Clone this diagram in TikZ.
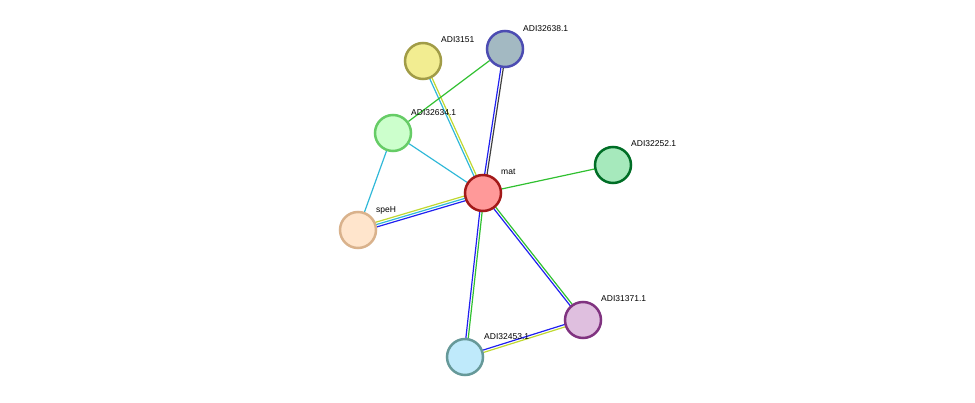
\documentclass[tikz,border=0pt]{standalone}
\usepackage{fontspec}
\setmainfont{Liberation Sans}
\usetikzlibrary{calc,backgrounds}
\definecolor{cblue}{HTML}{2020F0}
\definecolor{ccyan}{HTML}{30B8D8}
\definecolor{cgreen}{HTML}{30C030}
\definecolor{cyel}{HTML}{C0D830}
\definecolor{cgray}{HTML}{404040}
\tikzset{
 prot/.style={circle,minimum size=36pt,inner sep=0pt,line width=2.5pt},
 lab/.style={anchor=base west,font=\fontsize{8.5pt}{9pt}\selectfont,inner sep=0pt},
 ed/.style={line width=1.2pt}
}
\newcommand{\pedge}[4]{\draw[ed,#4] ($(#1)!#3!90:(#2)$) -- ($(#2)!#3!-90:(#1)$);}
\begin{document}
\begin{tikzpicture}[x=1pt,y=-1pt]
\useasboundingbox (0,0) rectangle (975,403);
\node[prot,draw=black!20!olive!70,fill=olive!30!yellow!40!white] (a15) at (423,61) {};
\node[lab] (l15) at (441,43) {ADI3151};
\node[prot,draw=blue!40!gray,fill=blue!30!cyan!20!gray!60!white] (a38) at (505,49) {};
\node[prot,draw=red!60!black!90,fill=red!40!white] (mat) at (483,193) {};
\node[prot,draw=green!50!gray!80,fill=green!20!white] (a34) at (393,133) {};
\node[prot,draw=green!40!black!70!teal,fill=green!50!teal!35!white] (a52) at (613,165) {};
\node[prot,draw=brown!60!white,fill=orange!20!white] (speH) at (358,230) {};
\node[prot,draw=violet!60!gray,fill=violet!25!white] (a71) at (583,320) {};
\node[prot,draw=teal!50!gray!80,fill=cyan!25!white] (a53) at (465,357) {};
\begin{scope}[on background layer]
\pedge{mat}{a38}{1.2pt}{cblue}\pedge{mat}{a38}{-1.2pt}{cgray}
\pedge{mat}{a15}{1.2pt}{ccyan}\pedge{mat}{a15}{-1.2pt}{cyel}
\draw[ed,ccyan] (mat) -- (a34);
\draw[ed,cgreen] (a34) -- (a38);
\draw[ed,ccyan] (a34) -- (speH);
\pedge{mat}{speH}{2.4pt}{cblue}\pedge{mat}{speH}{0pt}{ccyan}\pedge{mat}{speH}{-2.4pt}{cyel}
\draw[ed,cgreen] (mat) -- (a52);
\pedge{mat}{a53}{-1.2pt}{cblue}\pedge{mat}{a53}{1.2pt}{cgreen}
\pedge{mat}{a71}{1.2pt}{cgreen}\pedge{mat}{a71}{-1.2pt}{cblue}
\pedge{a53}{a71}{-1.2pt}{cyel}\pedge{a53}{a71}{1.2pt}{cblue}
\end{scope}
\node[lab] (lmat) at (501,175) {mat};
\node[lab] (l38) at (523,32) {ADI32638.1};
\node[lab] (l34) at (411,116) {ADI32634.1};
\node[lab] (l52) at (631,147) {ADI32252.1};
\node[lab] (lsp) at (376,213) {speH};
\node[lab] (l71) at (601,302) {ADI31371.1};
\node[lab] (l53) at (484,340) {ADI32453.1};
\end{tikzpicture}
\end{document}
